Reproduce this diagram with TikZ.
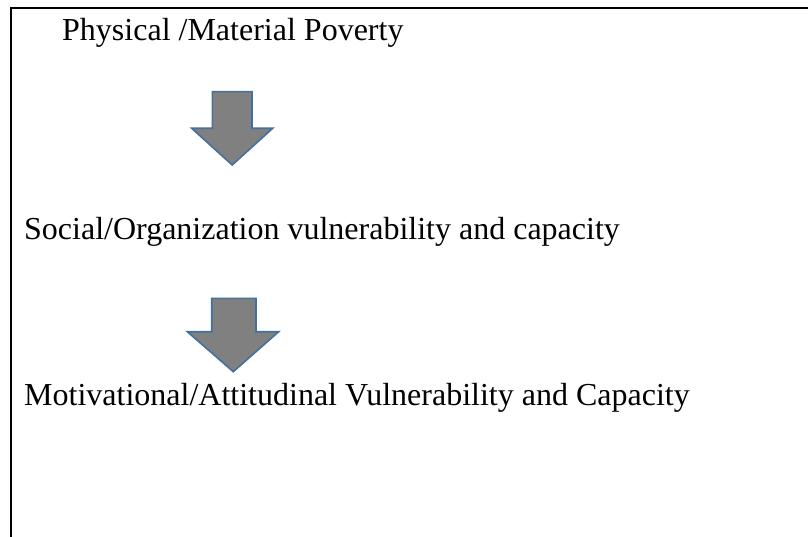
\documentclass[tikz,border=0pt]{standalone}
\usepackage{fontspec}
\setmainfont{Liberation Serif}
\definecolor{arrowfill}{RGB}{128,128,128}
\definecolor{arrowline}{RGB}{65,113,156}

\begin{document}
\begin{tikzpicture}[x=1pt, y=-1pt,
  label/.style={anchor=base west, inner sep=0pt, font=\fontsize{32}{36}\selectfont},
  blockarrow/.style={fill=arrowfill, draw=arrowline, line width=1.6pt, line join=miter}]
  \useasboundingbox (0,0) rectangle (808,537);
  \draw[line width=2pt] (11,537) -- (11,8.3) -- (808,8.3);
  \node[label] (poverty) at (62,41) {Physical /Material Poverty};
  \filldraw[blockarrow] (212.3,91.7) -- (252,91.7) -- (252,128.3) -- (272.7,128.3) -- (232.2,165) -- (191.7,128.3) -- (212.3,128.3) -- cycle;
  \node[label] (social) at (24,240) {Social/Organization vulnerability and capacity};
  \filldraw[blockarrow] (211.7,298.3) -- (256,298.3) -- (256,331.7) -- (278.7,331.7) -- (233.3,371.7) -- (187.3,331.7) -- (211.7,331.7) -- cycle;
  \node[label] (motive) at (24,405) {Motivational/Attitudinal Vulnerability and Capacity};
\end{tikzpicture}
\end{document}
